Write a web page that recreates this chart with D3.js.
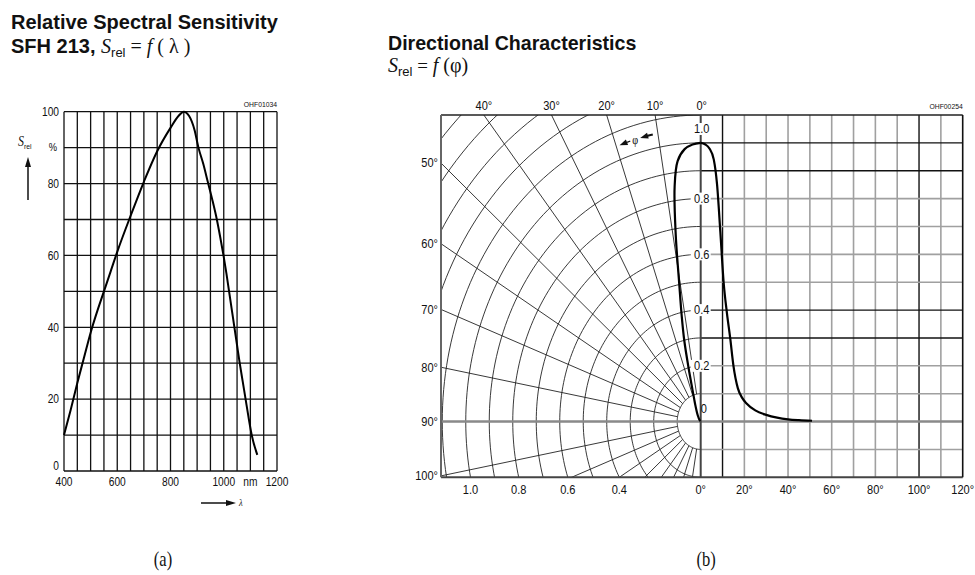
<!DOCTYPE html>
<html><head><meta charset="utf-8">
<script src="https://cdn.jsdelivr.net/npm/d3@7"></script>
<style>html,body{margin:0;padding:0;background:#fff}</style>
</head><body>
<svg id="c" width="975" height="575"></svg>
<script>
// ---------- data ----------
// (a) relative spectral sensitivity
const wavelength = [400, 425, 450, 475, 500, 525, 550, 575, 600, 650, 700, 750, 800, 830, 850, 870, 890, 905, 923, 940, 957, 974, 987, 999, 1010, 1020, 1030, 1040, 1050, 1060, 1071, 1082, 1093, 1105, 1126];
const sensitivity = [10, 17, 24.5, 31.5, 38.5, 44.5, 50, 55.5, 61, 71, 80.5, 89, 95.5, 98.8, 100, 98.8, 95, 90, 85.5, 80.5, 75.5, 70, 65, 60, 55, 50, 45, 40, 35, 30, 25, 20, 15, 10, 4.5];
const xTicksA = [400, 600, 800, 1000, 1200];
const yTicksA = [0, 20, 40, 60, 80, 100];
// (b) directional characteristics
const angleDeg = [0, 2, 4, 6, 7.5, 9, 10.5, 12, 13.5, 15, 17, 19, 21, 25, 30, 35, 40, 45, 51];
const srelDir = [1.0, 0.995, 0.98, 0.94, 0.85, 0.68, 0.5, 0.39, 0.3, 0.2, 0.12, 0.085, 0.065, 0.04, 0.024, 0.014, 0.008, 0.005, 0.003];
const polarTopTicks = [10, 20, 30, 40];
const polarLeftTicks = [50, 60, 70, 80, 90, 100];
const polarBottomTicks = [1.0, 0.8, 0.6, 0.4];
const axisTicks = [0.8, 0.6, 0.4, 0.2];
const rectXTicks = [0, 20, 40, 60, 80, 100, 120];

const SANS = "'Liberation Sans', Arial, sans-serif";
const SERIF = "'Liberation Serif', 'Times New Roman', serif";
const SX = 0.85;
const svg = d3.select('#c');

function T(sel, x, y, s, o = {}) {
  return sel.append('text')
    .attr('transform', `translate(${x},${y}) scale(${o.sx ?? SX},1)`)
    .attr('text-anchor', o.a || 'start')
    .attr('dominant-baseline', o.db || 'auto')
    .style('font-size', (o.fs || 12) + 'px')
    .style('font-family', o.ff || SANS)
    .style('font-weight', o.fw || 'normal')
    .style('font-style', o.it ? 'italic' : 'normal')
    .attr('fill', o.fill || '#111')
    .text(s);
}

// ================= (a) =================
const gA = svg.append('g');
const xA = d3.scaleLinear().domain([400, 1200]).range([64, 277]);
const yA = d3.scaleLinear().domain([0, 100]).range([471, 111.7]);

gA.selectAll('.vA').data(d3.range(400, 1201, 50)).join('line')
  .attr('x1', d => xA(d)).attr('x2', d => xA(d)).attr('y1', yA(0)).attr('y2', yA(100))
  .attr('stroke', '#111').attr('stroke-width', 1.3);
gA.selectAll('.hA').data(d3.range(0, 101, 10)).join('line')
  .attr('x1', xA(400)).attr('x2', xA(1200)).attr('y1', d => yA(d)).attr('y2', d => yA(d))
  .attr('stroke', '#111').attr('stroke-width', 1.3);

yTicksA.forEach(v => T(gA, xA(400) - 5, Math.min(yA(v), 466), String(v), {a: 'end', db: 'central', fs: 12}));
xTicksA.forEach(v => T(gA, xA(v), 486, String(v), {a: 'middle', fs: 12}));
T(gA, xA(1100), 486, 'nm', {a: 'middle', fs: 12});
T(gA, xA(1200), 107, 'OHF01034', {a: 'end', fs: 8});

// curve
gA.append('path').datum(wavelength.map((w, i) => [w, sensitivity[i]]))
  .attr('d', d3.line().x(d => xA(d[0])).y(d => yA(d[1])).curve(d3.curveMonotoneX))
  .attr('fill', 'none').attr('stroke', '#000').attr('stroke-width', 2);

// y label & arrow
const sl = gA.append('text').attr('transform', `translate(18,146) scale(${SX},1)`).attr('fill', '#111');
sl.append('tspan').text('S').style('font-family', SERIF).style('font-style', 'italic').style('font-size', '14px');
sl.append('tspan').text('rel').attr('dy', 3).style('font-family', SANS).style('font-size', '8px');
T(gA, 53, yA(90), '%', {a: 'middle', db: 'central', fs: 11});
gA.append('line').attr('x1', 28).attr('x2', 28).attr('y1', 200).attr('y2', 165).attr('stroke', '#111').attr('stroke-width', 1.5);
gA.append('path').attr('d', 'M28,157 L25,167 L31,167 Z').attr('fill', '#111');
// x arrow
gA.append('line').attr('x1', 201).attr('x2', 228).attr('y1', 503).attr('y2', 503).attr('stroke', '#111').attr('stroke-width', 1.5);
gA.append('path').attr('d', 'M236,503 L226,500 L226,506 Z').attr('fill', '#111');
T(gA, 239, 506, 'λ', {ff: SERIF, it: true, fs: 10});

// titles (a)
T(svg, 11, 29, 'Relative Spectral Sensitivity', {fs: 20, fw: 'bold', sx: 1.0});
const t2 = svg.append('text').attr('transform', `translate(11,53) scale(1,1)`).attr('fill', '#111');
t2.append('tspan').text('SFH 213, ').style('font-family', SANS).style('font-weight', 'bold').style('font-size', '20px');
t2.append('tspan').text('S').style('font-family', SERIF).style('font-style', 'italic').style('font-size', '20px');
t2.append('tspan').text('rel').attr('dy', 4).style('font-family', SANS).style('font-size', '13px');
t2.append('tspan').text(' = ').attr('dy', -4).style('font-family', SERIF).style('font-size', '20px');
t2.append('tspan').text('f').style('font-family', SERIF).style('font-style', 'italic').style('font-size', '20px');
t2.append('tspan').text(' ( λ )').style('font-family', SERIF).style('font-size', '20px');

// ================= (b) =================
const gB = svg.append('g');
const xR = d3.scaleLinear().domain([0, 120]).range([700.7, 962.7]);
const yR = d3.scaleLinear().domain([-0.2, 1.1]).range([477.3, 115]);
const cx = xR(0), cy = yR(0);
const ky = yR(0) - yR(1), kx = ky * 0.843;
const lf = 441, tp = yR(1.1), bt = yR(-0.2), rt = xR(120);
const rad = d => d * Math.PI / 180;
const pt = (deg, r) => [cx - r * kx * Math.sin(rad(deg)), cy - r * ky * Math.cos(rad(deg))];

svg.append('defs').append('clipPath').attr('id', 'pclip')
  .append('rect').attr('x', lf).attr('y', tp).attr('width', cx - lf).attr('height', bt - tp);
const gP = gB.append('g').attr('clip-path', 'url(#pclip)');

// circles
d3.range(1, 16).forEach(i => {
  const r = i / 10;
  const pts = d3.range(0, 180.1, 1.5).map(a => pt(a, r));
  gP.append('path').attr('d', d3.line()(pts)).attr('fill', 'none').attr('stroke', '#222').attr('stroke-width', 0.9);
});
// radial lines
d3.range(10, 171, 10).forEach(a => {
  const p0 = pt(a, 0.1), p1 = pt(a, 2.2);
  gP.append('line').attr('x1', p0[0]).attr('y1', p0[1]).attr('x2', p1[0]).attr('y2', p1[1])
    .attr('stroke', '#222').attr('stroke-width', 0.9);
});

// rect grid (right)
const darkV = [10, 100];
const darkH = [1.0, 0.9, 0.4, 0.3];
d3.range(10, 111, 10).forEach(v => {
  const dk = darkV.includes(v);
  gB.append('line').attr('x1', xR(v)).attr('x2', xR(v)).attr('y1', tp).attr('y2', bt)
    .attr('stroke', dk ? '#111' : '#a0a0a0').attr('stroke-width', dk ? 1.4 : 1.6);
});
d3.range(-1, 11).map(i => Math.round(i) / 10).filter(v => v !== 0).forEach(v => {
  const dk = darkH.includes(v);
  gB.append('line').attr('x1', cx).attr('x2', rt).attr('y1', yR(v)).attr('y2', yR(v))
    .attr('stroke', dk ? '#111' : '#a0a0a0').attr('stroke-width', dk ? 1.4 : 1.6);
});
// 90° / zero line
gB.append('line').attr('x1', lf).attr('x2', rt).attr('y1', cy).attr('y2', cy)
  .attr('stroke', '#8a8a8a').attr('stroke-width', 2.4);
// frame
gB.append('line').attr('x1', lf).attr('x2', rt).attr('y1', tp).attr('y2', tp).attr('stroke', '#222').attr('stroke-width', 1.6);
gB.append('line').attr('x1', lf).attr('x2', rt).attr('y1', bt).attr('y2', bt).attr('stroke', '#444').attr('stroke-width', 2);
gB.append('line').attr('x1', lf).attr('x2', lf).attr('y1', tp).attr('y2', bt).attr('stroke', '#666').attr('stroke-width', 2);
gB.append('line').attr('x1', rt).attr('x2', rt).attr('y1', tp).attr('y2', bt).attr('stroke', '#111').attr('stroke-width', 1.6);
// 0° axis
gB.append('line').attr('x1', cx).attr('x2', cx).attr('y1', tp).attr('y2', bt).attr('stroke', '#444').attr('stroke-width', 2);

// phi arrow along arc (R = 1.05, between the 10° and 20° rays)
const arcSeg = (a0, a1) => d3.line()(d3.range(a0, a1 + 0.01, 0.25).map(a => pt(a, 1.05)));
gB.append('path').attr('d', arcSeg(16.6, 18.2)).attr('fill', 'none').attr('stroke', '#111').attr('stroke-width', 1.3);
gB.append('path').attr('d', arcSeg(11.2, 13)).attr('fill', 'none').attr('stroke', '#111').attr('stroke-width', 2.2);
function arrowAt(a) {
  const p = pt(a, 1.05), q = pt(a - 1, 1.05);
  const ang = Math.atan2(p[1] - q[1], p[0] - q[0]) * 180 / Math.PI;
  gB.append('path').attr('d', 'M0,0 L-8,-3 L-8,3 Z').attr('fill', '#111')
    .attr('transform', `translate(${p[0]},${p[1]}) rotate(${ang})`);
}
arrowAt(19.2); arrowAt(14.2);
const pm = pt(15.4, 1.05);
T(gB, pm[0], pm[1], 'φ', {a: 'middle', db: 'central', fs: 12, ff: SERIF, fill: '#000'});

// curves
gB.append('path').datum(angleDeg.map((a, i) => pt(a, srelDir[i])))
  .attr('d', d3.line().curve(d3.curveCatmullRom))
  .attr('fill', 'none').attr('stroke', '#000').attr('stroke-width', 2.2);
gB.append('path').datum(angleDeg.map((a, i) => [a, srelDir[i]]))
  .attr('d', d3.line().x(d => xR(d[0])).y(d => yR(d[1])).curve(d3.curveMonotoneX))
  .attr('fill', 'none').attr('stroke', '#000').attr('stroke-width', 2.2);

// axis labels on 0° line
axisTicks.forEach(v => {
  gB.append('rect').attr('x', cx - 10).attr('y', yR(v) - 6).attr('width', 20).attr('height', 12).attr('fill', '#fff');
  T(gB, cx + 1, yR(v), v.toFixed(1), {a: 'middle', db: 'central', fs: 13});
});
gB.append('rect').attr('x', cx - 10).attr('y', 123).attr('width', 20).attr('height', 12).attr('fill', '#fff');
T(gB, cx + 1, 129, '1.0', {a: 'middle', db: 'central', fs: 13});
T(gB, cx + 3, 409, '0', {a: 'middle', db: 'central', fs: 13});

// angle labels
polarTopTicks.forEach(a => {
  const x = cx - (cy - tp) / ky * Math.tan(rad(a)) * kx;
  T(gB, x, tp - 9, a + '°', {a: 'middle', db: 'central', fs: 13});
});
T(gB, cx + 1, tp - 9, '0°', {a: 'middle', db: 'central', fs: 13});
polarLeftTicks.forEach(a => {
  const y = cy - (cx - lf) / kx * (Math.cos(rad(a)) / Math.sin(rad(a))) * ky;
  T(gB, lf - 3, y, a + '°', {a: 'end', db: 'central', fs: 13});
});
polarBottomTicks.forEach(r => {
  const dy = (bt - cy) / ky;
  const x = cx - kx * Math.sqrt(r * r - dy * dy);
  T(gB, x, 490, r.toFixed(1), {a: 'middle', db: 'central', fs: 13});
});
rectXTicks.forEach(v => T(gB, xR(v), 490, v + '°', {a: 'middle', db: 'central', fs: 13}));
T(gB, rt, 109, 'OHF00254', {a: 'end', fs: 8});

// titles (b)
T(svg, 388, 50, 'Directional Characteristics', {fs: 20, fw: 'bold', sx: 0.98});
const t3 = svg.append('text').attr('transform', `translate(388,72) scale(1,1)`).attr('fill', '#111');
t3.append('tspan').text('S').style('font-family', SERIF).style('font-style', 'italic').style('font-size', '20px');
t3.append('tspan').text('rel').attr('dy', 4).style('font-family', SANS).style('font-size', '13px');
t3.append('tspan').text(' = ').attr('dy', -4).style('font-family', SERIF).style('font-size', '19px');
t3.append('tspan').text('f').style('font-family', SERIF).style('font-style', 'italic').style('font-size', '20px');
t3.append('tspan').text(' (φ)').style('font-family', SERIF).style('font-size', '20px');

// captions
T(svg, 163, 566, '(a)', {a: 'middle', fs: 22, ff: SERIF, sx: 0.75});
T(svg, 706, 566, '(b)', {a: 'middle', fs: 22, ff: SERIF, sx: 0.75});
</script>
</body></html>
